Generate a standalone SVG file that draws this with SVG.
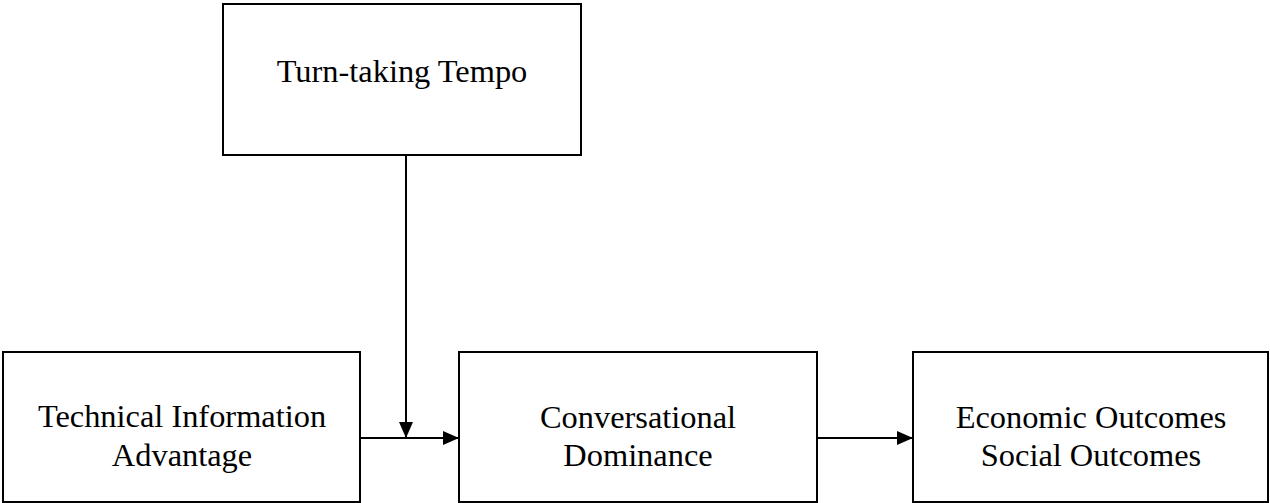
<svg xmlns="http://www.w3.org/2000/svg" width="1270" height="503" viewBox="0 0 1270 503">
<style>
.box{fill:#fff;stroke:#000;stroke-width:2}
.lbl{font-family:"Liberation Serif","Times New Roman",serif;font-size:32.4px;fill:#000;text-anchor:middle}
.con{stroke:#000;stroke-width:2;fill:none}
</style>
<defs>
<marker id="ah" viewBox="0 0 16 14" refX="16" refY="7" markerWidth="16" markerHeight="14" markerUnits="userSpaceOnUse" orient="auto">
<path d="M0,0 L16,7 L0,14 Z" fill="#000"/>
</marker>
</defs>
<rect width="1270" height="503" fill="#fff"/>
<g id="n-tempo">
<rect class="box" x="223" y="4" width="358" height="151"/>
<text class="lbl" x="402" y="82">Turn-taking Tempo</text>
</g>
<g id="n-tech">
<rect class="box" x="3" y="352" width="357" height="150"/>
<text class="lbl" x="182" y="427">Technical Information</text>
<text class="lbl" x="182" y="466">Advantage</text>
</g>
<g id="n-conv">
<rect class="box" x="459" y="352" width="358" height="150"/>
<text class="lbl" x="638" y="428">Conversational</text>
<text class="lbl" x="638" y="466">Dominance</text>
</g>
<g id="n-out">
<rect class="box" x="913" y="352" width="355" height="150"/>
<text class="lbl" x="1091" y="428">Economic Outcomes</text>
<text class="lbl" x="1091" y="466">Social Outcomes</text>
</g>
<g id="connectors">
<line class="con" x1="360" y1="438" x2="459" y2="438" marker-end="url(#ah)"/>
<line class="con" x1="406" y1="155" x2="406" y2="438" marker-end="url(#ah)"/>
<line class="con" x1="817" y1="438" x2="913" y2="438" marker-end="url(#ah)"/>
</g>
</svg>
